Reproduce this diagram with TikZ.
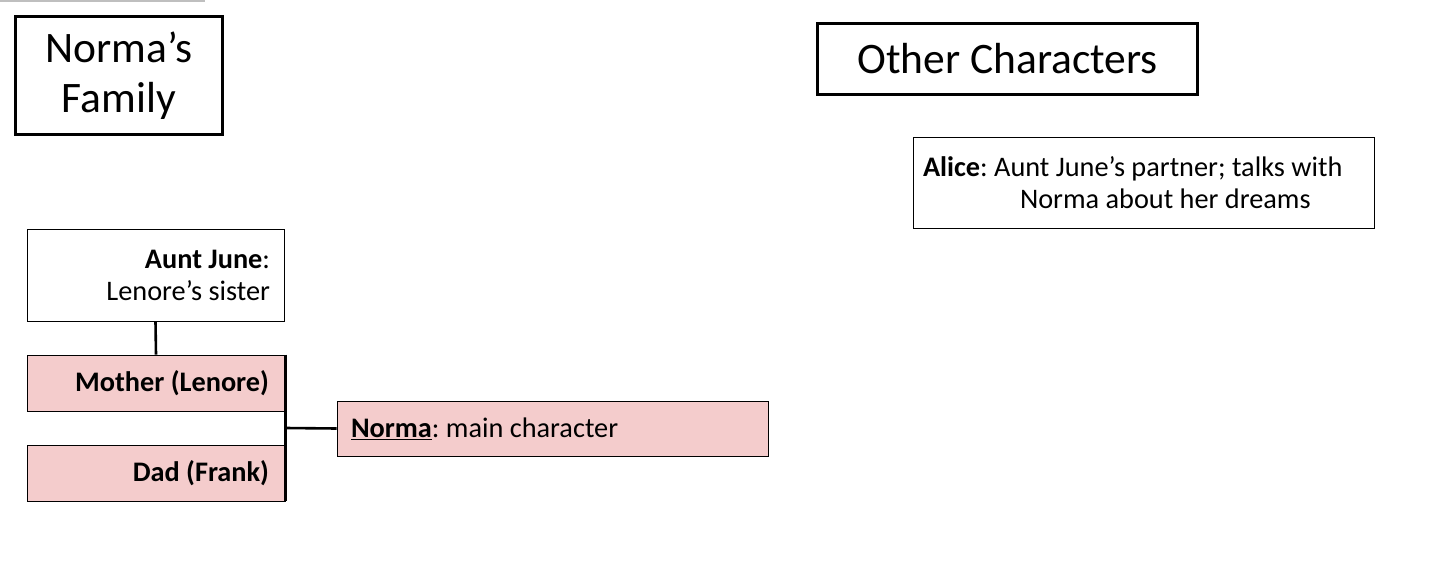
\documentclass[tikz,border=0pt]{standalone}
\usepackage{fontspec}
\setmainfont{Carlito}
\usetikzlibrary{calc}
\definecolor{pinkfill}{HTML}{F4CCCC}
\frenchspacing
\begin{document}
\begin{tikzpicture}[x=1pt,y=-1pt,
  titlebox/.style={draw=black,line width=3pt,inner sep=0pt,align=center,font=\fontsize{43.5}{50}\selectfont},
  infobox/.style={draw=black,line width=0.9pt,inner sep=0pt,font=\fontsize{28.3}{32}\selectfont},
  famlink/.style={line width=2.6pt},
]
\useasboundingbox (0,0) rectangle (1436,562);
\draw[gray!50,line width=1.5pt] (0,0.8) -- (205,0.8);
\node[titlebox,minimum width=207,minimum height=118] (fam) at (119,75.5) {Norma’s\\Family};
\node[titlebox,minimum width=380,minimum height=71] (oth) at (1007.5,59) {Other Characters};
\node[infobox,minimum width=461,minimum height=91,text width=441,align=flush left] (alice) at (1143.5,182.5)
  {\textbf{Alice}: Aunt June’s partner; talks with\\\hspace*{97pt}Norma about her dreams};
\node[infobox,minimum width=257,minimum height=92,text width=229,align=flush right] (june) at (155.5,275)
  {\textbf{Aunt June}:\\Lenore’s sister};
\node[infobox,fill=pinkfill,minimum width=258,minimum height=56,text width=226,align=flush right] (mom) at (156,383)
  {\textbf{Mother (Lenore)}};
\node[infobox,fill=pinkfill,minimum width=258,minimum height=56,text width=226,align=flush right] (dad) at (156,473)
  {\textbf{Dad (Frank)}};
\node[infobox,fill=pinkfill,minimum width=431,minimum height=55,text width=403,align=flush left] (norma) at (552.5,428.5)
  {\textbf{\underline{Norma}}: main character};
\draw[famlink] (june.south) -- (mom.north);
\draw[famlink] (mom.north east) -- (dad.south east);
\coordinate (mid) at ($(mom.south east)!0.5!(dad.north east)$);
\draw[famlink] (mid) -- (norma.west);
\end{tikzpicture}
\end{document}
